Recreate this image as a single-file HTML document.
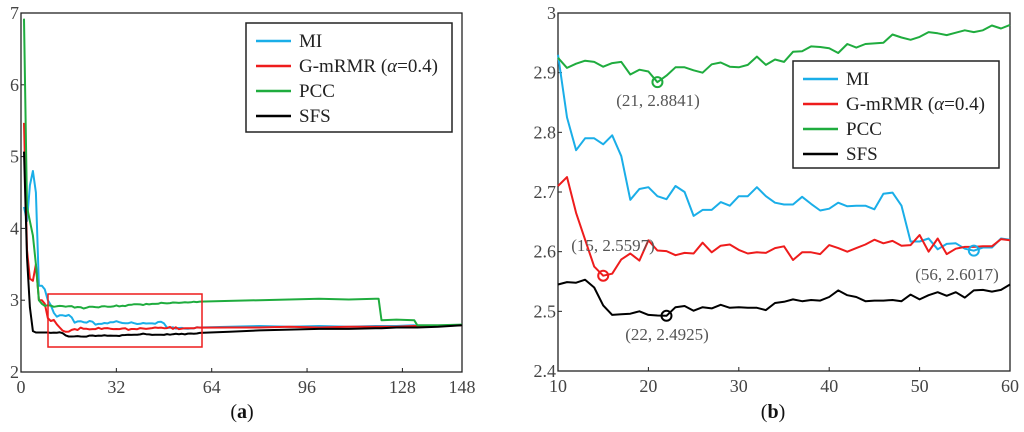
<!DOCTYPE html>
<html><head><meta charset="utf-8"><style>
body{margin:0;background:#fff;width:1024px;height:432px;overflow:hidden}
svg{display:block;font-family:"Liberation Serif",serif}
</style></head><body>
<svg id="fig" width="1024" height="432" viewBox="0 0 1024 432"></svg>
<script>
// ---- data (right chart, x 10..60) ----
const xsR = [10,11,12,13,14,15,16,17,18,19,20,21,22,23,24,25,26,27,28,29,30,31,32,33,34,35,36,37,38,39,40,41,42,43,44,45,46,47,48,49,50,51,52,53,54,55,56,57,58,59,60];
const miR = [2.93,2.825,2.77,2.79,2.79,2.78,2.795,2.76,2.687,2.705,2.708,2.693,2.688,2.71,2.70,2.66,2.67,2.67,2.683,2.677,2.693,2.693,2.708,2.693,2.682,2.679,2.679,2.692,2.68,2.669,2.672,2.682,2.676,2.677,2.677,2.671,2.697,2.699,2.677,2.617,2.617,2.622,2.604,2.613,2.614,2.605,2.6017,2.607,2.607,2.622,2.62];
const gmR = [2.71,2.725,2.665,2.62,2.575,2.5597,2.563,2.587,2.597,2.585,2.619,2.602,2.601,2.594,2.598,2.597,2.615,2.599,2.61,2.612,2.603,2.597,2.599,2.598,2.606,2.609,2.586,2.599,2.599,2.596,2.611,2.606,2.600,2.606,2.612,2.62,2.614,2.618,2.61,2.611,2.628,2.6,2.622,2.596,2.605,2.608,2.608,2.609,2.609,2.621,2.619];
const pcR = [2.925,2.908,2.915,2.92,2.918,2.91,2.916,2.918,2.897,2.905,2.902,2.8841,2.895,2.909,2.909,2.904,2.9,2.914,2.917,2.91,2.909,2.913,2.927,2.913,2.922,2.918,2.935,2.936,2.944,2.943,2.941,2.933,2.948,2.942,2.948,2.949,2.95,2.964,2.959,2.955,2.96,2.968,2.966,2.963,2.967,2.971,2.968,2.971,2.979,2.974,2.98];
const sfR = [2.545,2.549,2.548,2.553,2.54,2.51,2.494,2.495,2.496,2.5,2.494,2.493,2.4925,2.507,2.509,2.501,2.507,2.505,2.511,2.506,2.507,2.506,2.506,2.502,2.514,2.516,2.52,2.517,2.519,2.518,2.524,2.535,2.527,2.524,2.517,2.518,2.518,2.519,2.517,2.528,2.52,2.527,2.532,2.526,2.532,2.523,2.535,2.536,2.533,2.536,2.545];
// ---- left chart extra segments ----
const xsHead = [1,2,3,4,5,6,7,8,9];
const miHead = [4.3,4.1,4.6,4.8,4.5,3.2,3.2,3.15,3.0];
const gmHead = [5.47,3.7,3.3,3.27,3.5,3.0,3.0,2.95,2.75];
const pcHead = [6.92,4.3,4.1,3.9,3.5,3.0,2.95,2.92,2.93];
const sfHead = [5.07,3.6,2.9,2.57,2.55,2.55,2.55,2.55,2.55];
const xsTail = [70,80,90,100,110,119,120,121,126,132,133,140,148];
const miTail = [2.63,2.64,2.63,2.64,2.63,2.64,2.64,2.64,2.64,2.65,2.64,2.64,2.65];
const gmTail = [2.62,2.62,2.63,2.62,2.63,2.63,2.63,2.63,2.63,2.64,2.64,2.64,2.65];
const pcTail = [2.99,3.0,3.01,3.02,3.01,3.02,3.02,2.72,2.73,2.72,2.65,2.65,2.66];
const sfTail = [2.56,2.58,2.59,2.60,2.60,2.61,2.61,2.61,2.62,2.62,2.62,2.63,2.65];
const xTicksL = [0,32,64,96,128,148];
const yTicksL = [2,3,4,5,6,7];
const xTicksR = [10,20,30,40,50,60];
const yTicksR = [2.4,2.5,2.6,2.7,2.8,2.9,3];
const names = ["MI","G-mRMR","PCC","SFS"];
const colors = ["#1aaee8","#ee1c1c","#1fac3e","#000000"];
const marks = [[21,2.8841,2,"(21, 2.8841)",658,106],[15,2.5597,1,"(15, 2.5597)",613,251],[56,2.6017,0,"(56, 2.6017)",957,280],[22,2.4925,3,"(22, 2.4925)",667,340]];

const svg=document.getElementById('fig');const NS='http://www.w3.org/2000/svg';
function mk(t,a,p){const e=document.createElementNS(NS,t);for(const k in a)e.setAttribute(k,a[k]);(p||svg).appendChild(e);return e;}
function axes(x0,x1,y0,y1,dx0,dx1,dy0,dy1){return {X:v=>x0+(v-dx0)/(dx1-dx0)*(x1-x0),Y:v=>y1-(v-dy0)/(dy1-dy0)*(y1-y0)};}
function poly(xs,ys,A,col,name){const e=mk('polyline',{points:xs.map((x,i)=>A.X(x).toFixed(1)+','+A.Y(ys[i]).toFixed(1)).join(' '),fill:'none',stroke:col,'stroke-width':2,'stroke-linejoin':'round'});

}
function frame(x0,x1,y0,y1,A,xt,yt,pre){
 const r=mk('rect',{x:x0,y:y0,width:x1-x0,height:y1-y0,fill:'none',stroke:'#222','stroke-width':1.3});
 
 
 xt.forEach(v=>{mk('line',{x1:A.X(v),x2:A.X(v),y1:y1,y2:y1-4,stroke:'#222'});
  const t=mk('text',{x:A.X(v),y:y1+21,'text-anchor':'middle','font-size':18,fill:'#444'});t.textContent=v;
  
  });
 yt.forEach(v=>{mk('line',{x1:x0,x2:x0+4,y1:A.Y(v),y2:A.Y(v),stroke:'#222'});
  const t=mk('text',{x:x0-2,y:A.Y(v)+6,'text-anchor':'end','font-size':18,fill:'#444'});t.textContent=v;
  
  });
}
function legend(x,y,w,h,pre){const g=mk('g',{});
 
 
 mk('rect',{x:x,y:y,width:w,height:h,fill:'#fff',stroke:'#222','stroke-width':1.5},g);
 names.forEach((n,i)=>{const yy=y+18+i*25;mk('line',{x1:x+10,x2:x+45,y1:yy,y2:yy,stroke:colors[i],'stroke-width':2.5},g);
  const t=mk('text',{x:x+53,y:yy+6,'font-size':19,fill:'#222'},g);
  if(i==1){t.innerHTML='G-mRMR (<tspan font-style="italic">α</tspan>=0.4)';}else t.textContent=n;
  
  });}

// left chart
const L=axes(21,462,13,372,0,148,2,7);
frame(21,462,13,372,L,xTicksL,yTicksL,'left');
const heads=[miHead,gmHead,pcHead,sfHead],mids=[miR,gmR,pcR,sfR],tails=[miTail,gmTail,pcTail,sfTail];
[0,1,2,3].forEach(i=>poly(xsHead.concat(xsR,xsTail),heads[i].concat(mids[i],tails[i]),L,colors[i],'left-line-'+names[i].toLowerCase()));
const zr=mk('rect',{x:48,y:294,width:154,height:53,fill:'none',stroke:'#ee1c1c','stroke-width':1.5});


legend(246,23,206,109,'left');
const la=mk('text',{x:242,y:418,'text-anchor':'middle','font-size':20,fill:'#111'});la.innerHTML='(<tspan font-weight="bold">a</tspan>)';



// right chart
const R=axes(558,1010,13,371,10,60,2.4,3);
frame(558,1010,13,371,R,xTicksR,yTicksR,'right');
[0,1,2,3].forEach(i=>poly(xsR,mids[i],R,colors[i],'right-line-'+names[i].toLowerCase()));
legend(793,61,206,107,'right');
marks.forEach(m=>{const c=mk('circle',{cx:R.X(m[0]),cy:R.Y(m[1]),r:5,fill:'none',stroke:colors[m[2]],'stroke-width':2});
 
 
 const t=mk('text',{x:m[4],y:m[5],'text-anchor':'middle','font-size':17,fill:'#555'});t.textContent=m[3];
 
 });
const lb=mk('text',{x:773,y:418,'text-anchor':'middle','font-size':20,fill:'#111'});lb.innerHTML='(<tspan font-weight="bold">b</tspan>)';


</script>
</body></html>
